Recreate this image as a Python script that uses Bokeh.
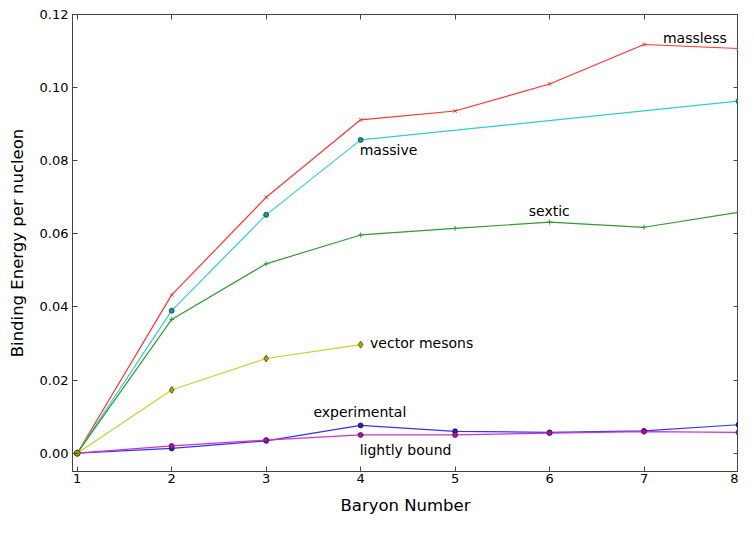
from bokeh.plotting import figure
from bokeh.models import FixedTicker, PrintfTickFormatter, LinearAxis, Range1d
from bokeh.core.properties import value
from bokeh.embed import file_html
from bokeh.resources import INLINE

baryon = [1, 2, 3, 4, 5, 6, 7, 8]
massless = [0.0, 0.0433, 0.0700, 0.0912, 0.0936, 0.1010, 0.1118, 0.1107]
massive_x = [1, 2, 3, 4, 8]
massive = [0.0, 0.0390, 0.0652, 0.0857, 0.0963]
sextic = [0.0, 0.0366, 0.0518, 0.0597, 0.0615, 0.0632, 0.0618, 0.0659]
vector_x = [1, 2, 3, 4]
vector = [0.0, 0.0173, 0.0259, 0.0297]
experimental = [0.0, 0.0013, 0.0034, 0.0076, 0.0060, 0.0057, 0.0061, 0.0078]
lightly = [0.0, 0.0020, 0.0036, 0.0050, 0.0050, 0.0055, 0.0059, 0.0057]

y_ticks = [0.0, 0.02, 0.04, 0.06, 0.08, 0.10, 0.12]

FONT = "DejaVu Sans"
AX = "#444444"

p = figure(width=738, height=517, output_backend="svg", toolbar_location=None,
           x_range=Range1d(0.95, 8.0), y_range=Range1d(-0.005, 0.12),
           min_border_left=72, min_border_top=14, min_border_right=0, min_border_bottom=40,
           x_axis_label="Baryon Number", y_axis_label="Binding Energy per nucleon")
p.grid.visible = False
p.outline_line_color = AX
p.outline_line_width = 1
p.background_fill_color = "white"
p.border_fill_color = "white"

for ax in p.xaxis + p.yaxis:
    ax.major_tick_in = 5
    ax.major_tick_out = 0
    ax.minor_tick_line_color = None
    ax.axis_line_color = AX
    ax.major_tick_line_color = AX
    ax.major_label_text_font = FONT
    ax.major_label_text_font_size = "13px"
    ax.major_label_text_color = "black"
    ax.axis_label_text_font = FONT
    ax.axis_label_text_font_size = "16.5px"
    ax.axis_label_text_font_style = "normal"
    ax.axis_label_text_color = "black"

p.xaxis.ticker = FixedTicker(ticks=baryon)
p.xaxis.major_label_standoff = 2
p.xaxis.axis_label_standoff = 10
p.yaxis.ticker = FixedTicker(ticks=y_ticks)
p.yaxis.formatter = PrintfTickFormatter(format="%.2f")
p.yaxis.major_label_standoff = 4
p.yaxis.axis_label_standoff = 10

top = LinearAxis(ticker=FixedTicker(ticks=baryon), major_label_text_color=None,
                 major_tick_in=5, major_tick_out=0, minor_tick_line_color=None,
                 axis_line_color=AX, major_tick_line_color=AX)
p.add_layout(top, "above")
right = LinearAxis(ticker=FixedTicker(ticks=y_ticks), major_label_text_color=None,
                   major_tick_in=5, major_tick_out=0, minor_tick_line_color=None,
                   axis_line_color=AX, major_tick_line_color=AX)
p.add_layout(right, "right")

# massless
p.line(baryon, massless, line_color="#ff3333", line_width=1.2)
p.scatter(baryon, massless, marker="x", size=5, line_color="#ff3333", line_width=1)
# massive
p.line(massive_x, massive, line_color="#33cccc", line_width=1.2)
p.scatter(massive_x, massive, marker="circle", size=5, fill_color="#119999", line_color="#114444", line_width=0.8)
# sextic
p.line(baryon, sextic, line_color="#339933", line_width=1.2)
p.scatter(baryon, sextic, marker="cross", size=5, line_color="#339933", line_width=1)
# vector mesons
p.line(vector_x, vector, line_color="#cccc33", line_width=1.2)
p.scatter(vector_x, vector, marker="diamond", size=7, fill_color="#aaaa00", line_color="#444400", line_width=0.8)
# experimental
p.line(baryon, experimental, line_color="#3333ff", line_width=1.2)
p.scatter(baryon, experimental, marker="circle", size=5, fill_color="#2222bb", line_color="#111155", line_width=0.8)
# lightly bound
p.line(baryon, lightly, line_color="#cc33cc", line_width=1.2)
p.scatter(baryon, lightly, marker="circle", size=5, fill_color="#aa11aa", line_color="#551155", line_width=0.8)
# origin marker (olive, vector mesons drawn on top)
p.scatter(vector_x[:1], vector[:1], marker="circle", size=6, fill_color="#999900", line_color="#444400", line_width=0.8)

labels = ["massless", "massive", "sextic", "vector mesons", "experimental", "lightly bound"]
label_x = [7.2, 3.99, 5.78, 4.1, 3.5, 3.99]
label_y = [0.1135, 0.0830, 0.0663, 0.0302, 0.0112, 0.0008]
p.text(label_x, label_y, text=labels, text_font=value(FONT), text_font_size="14px",
       text_baseline="middle", text_align="left", text_color="black")

open("out.html", "w").write(file_html(p, INLINE))
